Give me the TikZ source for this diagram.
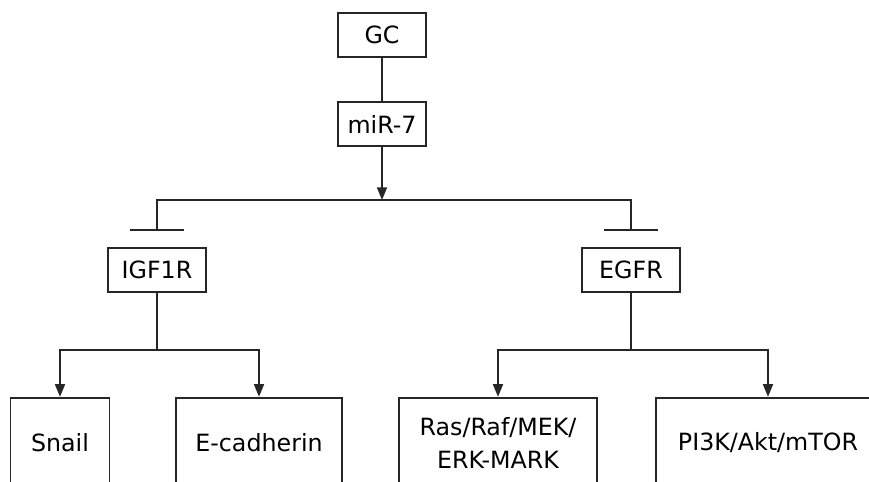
\documentclass[tikz,border=0pt]{standalone}
\usepackage{fontspec}
\setmainfont{DejaVu Sans}
\usetikzlibrary{arrows.meta, positioning}
\tikzstyle{box} = [
  rectangle,
  draw=black!85,
  line width=1.3pt,
  inner sep=0,
  text centered,
  align=center,
  font=\fontsize{17.8}{25}\selectfont
]
\tikzstyle{gene} = [
  box,
  minimum width=66pt,
  minimum height=33pt
]
\tikzstyle{receptor} = [
  box,
  minimum width=74pt,
  minimum height=33.5pt
]
\tikzstyle{target} = [
  box,
  minimum height=68pt
]
\tikzstyle{line} = [
  line width=1.3pt,
  draw=black!85
]
\tikzstyle{arrow} = [
  line,
  -{Triangle[length=9.5pt, width=7.5pt]}
]
\tikzstyle{inhibit} = [
  line,
  -{Bar[width=40.5pt]}
]

\begin{document}
\begin{tikzpicture}[x=0.75pt, y=-0.75pt, node distance=66.75pt]

    \useasboundingbox (0,0) rectangle (869,482);
    \clip (0,0) rectangle (869,482);

    \node (gc) [gene] at (382,35) {GC};
    \node (mir) [gene, below of=gc] {miR-7};
    \node (igf) [receptor] at (157,270) {IGF1R};
    \node (egfr) [receptor] at (631,270) {EGFR};
    \node (snail) [target, minimum width=74.25pt] at (60,443) {Snail};
    \node (ecad) [target, minimum width=125pt] at (259,443) {E-cadherin};
    \node (ras) [target, minimum width=149pt] at (498,443) {Ras/Raf/MEK/\\ERK-MARK};
    \node (pi3k) [target, minimum width=168pt] at (768,443) {PI3K/Akt/mTOR};

    \coordinate (split) at (382,200);
    \coordinate (lsplit) at (157,350);
    \coordinate (rsplit) at (631,350);

    \draw [line] (gc) -- (mir);
    \draw [arrow] (mir) -- (split);
    \draw [inhibit] (split) -| ([yshift=12pt]igf.north);
    \draw [inhibit] (split) -| ([yshift=12pt]egfr.north);
    \draw [line] (igf) -- (lsplit);
    \draw [arrow] (lsplit) -| (snail);
    \draw [arrow] (lsplit) -| (ecad);
    \draw [line] (egfr) -- (rsplit);
    \draw [arrow] (rsplit) -| (ras);
    \draw [arrow] (rsplit) -| (pi3k);

  \end{tikzpicture}
\end{document}
